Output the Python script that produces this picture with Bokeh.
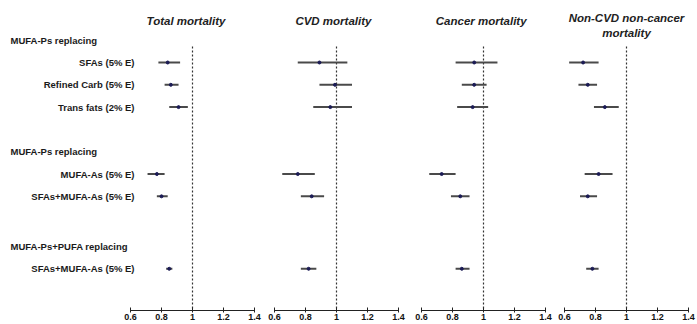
from bokeh.plotting import figure
from bokeh.layouts import row
from bokeh.models import Range1d, FixedTicker
from bokeh.core.properties import value
from bokeh.embed import file_html
from bokeh.resources import INLINE

# ---- data ----
row_labels = ["SFAs (5% E)", "Refined Carb (5% E)", "Trans fats (2% E)",
              "MUFA-As (5% E)", "SFAs+MUFA-As (5% E)", "SFAs+MUFA-As (5% E)"]
group_labels = ["MUFA-Ps replacing", "MUFA-Ps replacing", "MUFA-Ps+PUFA replacing"]
panel_titles = ["Total mortality", "CVD mortality", "Cancer mortality",
                "Non-CVD non-cancer\nmortality"]
x_ticks = [0.6, 0.8, 1.0, 1.2, 1.4]
x_tick_labels = ["0.6", "0.8", "1", "1.2", "1.4"]

total_est = [0.84, 0.86, 0.91, 0.77, 0.80, 0.85]
total_lo = [0.78, 0.82, 0.85, 0.71, 0.77, 0.83]
total_hi = [0.92, 0.91, 0.97, 0.82, 0.84, 0.87]
cvd_est = [0.89, 0.99, 0.96, 0.75, 0.84, 0.82]
cvd_lo = [0.75, 0.89, 0.85, 0.65, 0.77, 0.77]
cvd_hi = [1.07, 1.10, 1.10, 0.86, 0.92, 0.87]
cancer_est = [0.94, 0.94, 0.93, 0.73, 0.85, 0.86]
cancer_lo = [0.82, 0.86, 0.83, 0.65, 0.79, 0.82]
cancer_hi = [1.09, 1.02, 1.03, 0.82, 0.91, 0.91]
other_est = [0.72, 0.75, 0.86, 0.82, 0.75, 0.78]
other_lo = [0.63, 0.69, 0.79, 0.73, 0.70, 0.74]
other_hi = [0.82, 0.81, 0.95, 0.91, 0.81, 0.82]

# layout positions of rows (top to bottom, in row units)
row_pos = [1, 2, 3, 6, 7, 10.25]
group_pos = [0, 5, 9.25]

panels = [(total_est, total_lo, total_hi), (cvd_est, cvd_lo, cvd_hi),
          (cancer_est, cancer_lo, cancer_hi), (other_est, other_lo, other_hi)]

# ---- layout constants ----
FONT = "Liberation Sans"
H = 324
BOTTOM = 14
ROW_PX = 22.3                      # pixels per row unit
Y_TOP = 1 - 62 / ROW_PX            # top of canvas
Y_BOT = 1 + (H - BOTTOM - 62) / ROW_PX
LINE_TOP = 1 - 16 / ROW_PX         # top of reference line
FRAME_W = 124
PX_PER_X = FRAME_W / 0.8
LABEL_AREA = 130                   # px of label area left of panel 1 axis
borders = [(0, 10), (10, 10), (13, 9), (10, 9)]
title_x = [0.958, 0.98, 0.985, 1.0]
title_y = [1 - 42 / ROW_PX, 1 - 42 / ROW_PX, 1 - 42 / ROW_PX, 1 - 37 / ROW_PX]

y_range = Range1d(Y_BOT, Y_TOP)
figs = []
for i, (est, lo, hi) in enumerate(panels):
    left, right = borders[i]
    x_start = 0.6 - (LABEL_AREA / PX_PER_X if i == 0 else 0)
    frame_w = FRAME_W + (LABEL_AREA if i == 0 else 0)
    p = figure(width=left + frame_w + right, height=H,
               x_range=Range1d(x_start, 1.4), y_range=y_range,
               output_backend="svg", toolbar_location=None,
               y_axis_location=None,
               min_border_left=left, min_border_right=right,
               min_border_top=0, min_border_bottom=BOTTOM)
    p.outline_line_color = None
    p.background_fill_color = "white"
    p.border_fill_color = "white"
    p.xgrid.visible = False
    p.ygrid.visible = False

    ax = p.xaxis[0]
    ax.bounds = (0.6, 1.4)
    ax.ticker = FixedTicker(ticks=x_ticks)
    ax.major_label_overrides = {t: l for t, l in zip(x_ticks, x_tick_labels)}
    ax.minor_tick_line_color = None
    ax.major_tick_in = 3
    ax.major_tick_out = 2
    ax.major_label_standoff = 1
    ax.axis_line_color = "#222222"
    ax.major_tick_line_color = "#222222"
    ax.major_label_text_font = FONT
    ax.major_label_text_font_style = "bold"
    ax.major_label_text_font_size = "9px"
    ax.major_label_text_color = "#111111"

    # panel title
    p.text(x=[title_x[i]], y=[title_y[i]], text=[panel_titles[i]],
           text_align="center", text_baseline="middle",
           text_font=value(FONT), text_font_style="bold italic",
           text_font_size="11.5px", text_color="#222222", text_line_height=1.2)

    if i == 0:
        p.text(x=[0.6 + 4 / PX_PER_X] * len(row_pos), y=row_pos, text=row_labels,
               text_align="right", text_baseline="middle",
               text_font=value(FONT), text_font_style="bold",
               text_font_size="9.5px", text_color="#1a1a1a")
        p.text(x=[0.6 - 120 / PX_PER_X] * len(group_pos), y=group_pos,
               text=group_labels, text_align="left", text_baseline="middle",
               text_font=value(FONT), text_font_style="bold",
               text_font_size="9.5px", text_color="#1a1a1a")

    # reference line at 1
    p.segment(x0=[1], y0=[LINE_TOP], x1=[1], y1=[Y_BOT], line_color="#333333",
              line_width=1.2, line_dash="2 2")
    p.segment(x0=lo, y0=row_pos, x1=hi, y1=row_pos, line_color="#4a4a4a",
              line_width=2)
    p.scatter(x=est, y=row_pos, size=3, color="#1b1b55")
    figs.append(p)

layout = row(*figs)
open("out.html", "w").write(file_html(layout, INLINE))
